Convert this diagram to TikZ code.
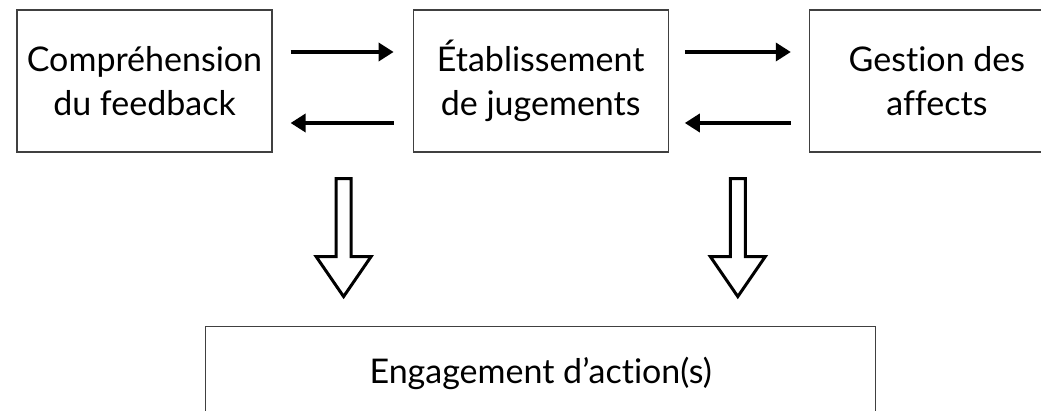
\documentclass[tikz,border=0pt]{standalone}
\usepackage{fontspec}
\setmainfont{Lato}[Ligatures=NoCommon]
\usetikzlibrary{shapes,arrows.meta,positioning,calc}
\tikzstyle{line} = [draw, line width=3.5pt, -{Triangle[length=15pt,width=18pt]}]
\tikzstyle{block} = [draw=black!75, line width=1.2pt, rectangle, text centered, align=center, minimum width=255pt, minimum height=142pt, font=\fontsize{34}{44}\selectfont]
\tikzstyle{wideblock} = [block, minimum width=670pt, minimum height=94pt]
\tikzstyle{bigarrow} = [draw, line width=3pt, single arrow, shape border rotate=270, single arrow tip angle=69, single arrow head extend=20pt, minimum height=118pt, minimum width=0pt, inner sep=6pt]

\begin{document}
\begin{tikzpicture}
    \useasboundingbox (0pt,0pt) rectangle (1041pt,-411pt);
        \node[block] (comp) at (144.5pt,-81pt) {Compréhension\\du feedback};
        \node[block, right=140pt of comp] (juge) {Établissement\\de jugements};
        \node[block, right=140pt of juge] (affects) {Gestion des\\affects};
        \node[wideblock, below=173pt of juge] (action) {Engagement d’action(s)};
        \path[line] ([xshift=18pt,yshift=29pt]comp.east) -- ([xshift=-19pt,yshift=29pt]juge.west);
        \path[line] ([xshift=-19pt,yshift=-42pt]juge.west) -- ([xshift=18pt,yshift=-42pt]comp.east);
        \path[line] ([xshift=16pt,yshift=29pt]juge.east) -- ([xshift=-18pt,yshift=29pt]affects.west);
        \path[line] ([xshift=-18pt,yshift=-42pt]affects.west) -- ([xshift=16pt,yshift=-42pt]juge.east);
        \node[bigarrow] (descenteA) at ($(comp.south east)!0.5!(juge.south west)+(1pt,-79.5pt)$) {};
        \node[bigarrow] (descenteB) at ($(juge.south east)!0.5!(affects.south west)+(-1pt,-79.5pt)$) {};
    \end{tikzpicture}
\end{document}
